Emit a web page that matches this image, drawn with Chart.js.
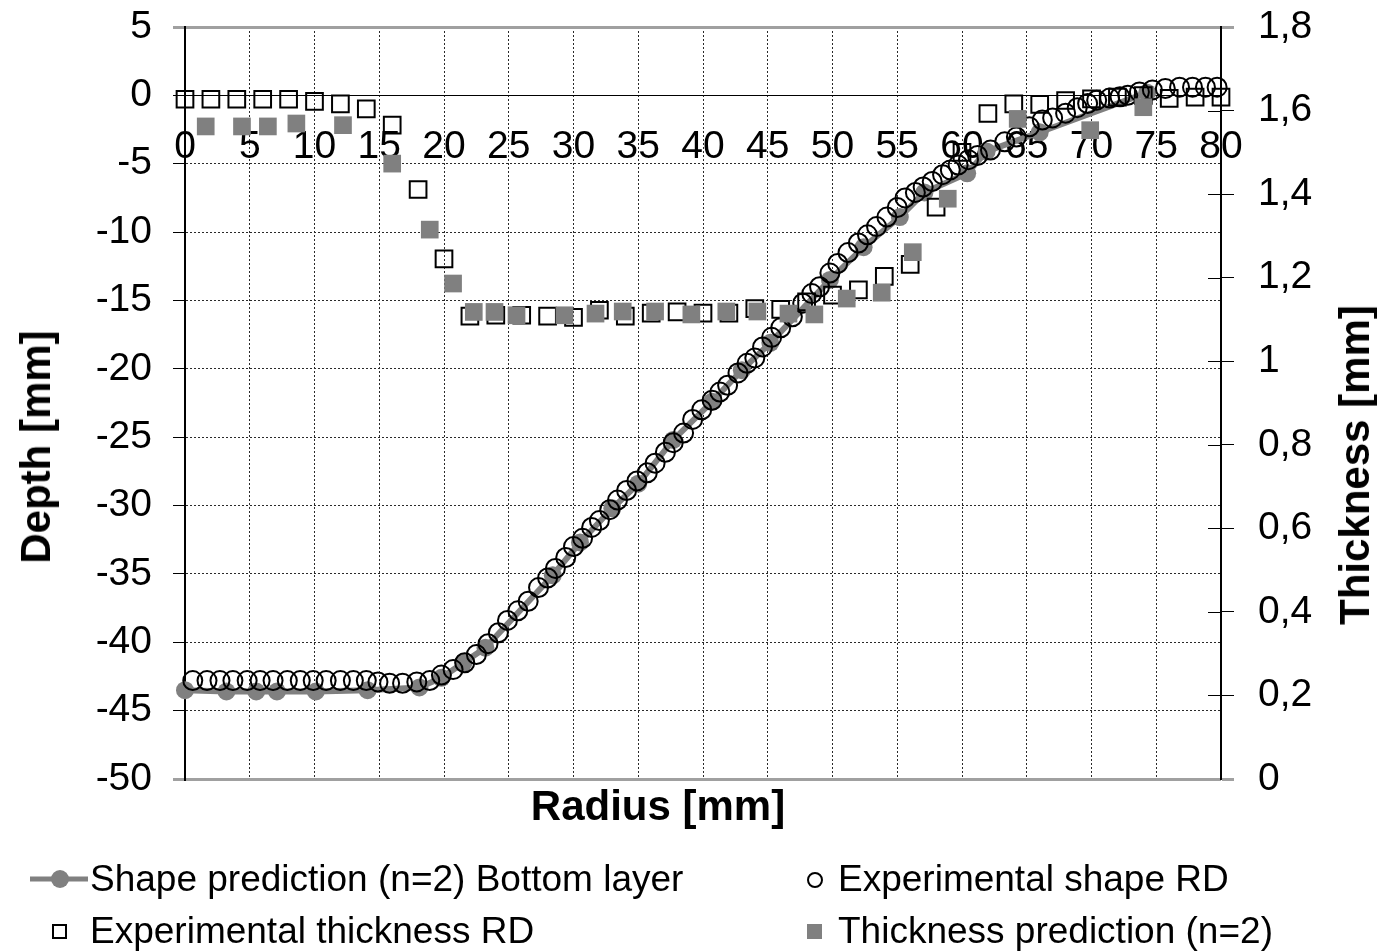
<!DOCTYPE html>
<html>
<head>
<meta charset="utf-8">
<script src="https://cdn.jsdelivr.net/npm/chart.js@4.4.1/dist/chart.umd.min.js"></script>
<style>
  body { margin: 0; background: #fff; font-family: "Liberation Sans", Arial, sans-serif; }
  #wrap { position: relative; width: 1377px; height: 952px; overflow: hidden; }
  #chart { position: absolute; left: 0; top: 0; }
  .ttl { position: absolute; font-weight: bold; font-size: 42px; line-height: 42px; white-space: nowrap; color: #000; }
  .leg { position: absolute; font-size: 37px; line-height: 40px; white-space: nowrap; color: #000; }
  .mk { position: absolute; }
</style>
</head>
<body>
<div id="wrap">
  <canvas id="chart" width="1377" height="952"></canvas>
  <div class="ttl" style="left:658px;top:806px;transform:translate(-50%,-50%)">Radius [mm]</div>
  <div class="ttl" style="left:36px;top:447px;transform:translate(-50%,-50%) rotate(-90deg)">Depth [mm]</div>
  <div class="ttl" style="left:1355px;top:465px;transform:translate(-50%,-50%) rotate(-90deg)">Thickness [mm]</div>

  <svg class="mk" style="left:28px;top:869px" width="62" height="20">
    <line x1="2" y1="10" x2="60" y2="10" stroke="#808080" stroke-width="5"/>
    <circle cx="32" cy="10" r="9" fill="#808080"/>
  </svg>
  <div class="leg" style="left:90px;top:859px">Shape prediction (n=2) Bottom layer</div>
  <svg class="mk" style="left:804px;top:869px" width="22" height="22">
    <circle cx="11" cy="11" r="7" fill="none" stroke="#000" stroke-width="2"/>
  </svg>
  <div class="leg" style="left:838px;top:859px">Experimental shape RD</div>
  <svg class="mk" style="left:50px;top:922px" width="20" height="20">
    <rect x="3" y="3" width="13" height="13" fill="none" stroke="#000" stroke-width="2"/>
  </svg>
  <div class="leg" style="left:90px;top:911px">Experimental thickness RD</div>
  <svg class="mk" style="left:805px;top:922px" width="20" height="20">
    <rect x="2" y="2" width="15" height="15" fill="#808080"/>
  </svg>
  <div class="leg" style="left:838px;top:911px">Thickness prediction (n=2)</div>
</div>
<script>
// radius positions [mm] and depths [mm] of the measured profile (RD)
const shapeExpR = [0.6, 1.7, 2.7, 3.7, 4.8, 5.8, 6.8, 7.9, 8.9, 9.9, 10.9, 12.0, 13.0, 14.0, 14.9, 15.8, 16.8, 17.9, 18.9,
  19.8, 20.7, 21.6, 22.5, 23.4, 24.2, 24.9, 25.7, 26.5, 27.3, 28.0, 28.6, 29.4, 30.0, 30.7, 31.4, 32.0, 32.8, 33.4, 34.1,
  34.9, 35.7, 36.3, 37.1, 37.7, 38.5, 39.2, 39.9, 40.7, 41.3, 41.9, 42.7, 43.4, 44.0, 44.6, 45.3, 46.0, 46.9, 47.7, 48.4,
  49.0, 49.8, 50.4, 51.2, 52.0, 52.7, 53.4, 54.2, 55.0, 55.6, 56.4, 57.0, 57.7, 58.5, 59.1, 59.7, 60.5, 61.2, 62.2, 63.3,
  64.2, 65.2, 66.2, 67.0, 68.0, 68.9, 69.7, 70.4, 71.4, 72.2, 72.8, 73.7, 74.7, 75.7, 76.8, 77.8, 78.8, 79.7];
const shapeExpDepth = [-42.8, -42.8, -42.8, -42.8, -42.8, -42.8, -42.8, -42.8, -42.8, -42.8, -42.8, -42.8, -42.8, -42.8, -42.9, -43.0, -43.0, -42.9, -42.8,
  -42.4, -42.0, -41.5, -40.9, -40.1, -39.3, -38.4, -37.7, -37.0, -36.0, -35.3, -34.6, -33.8, -33.0, -32.4, -31.6, -31.1, -30.3, -29.6, -28.9,
  -28.2, -27.6, -26.9, -26.1, -25.4, -24.7, -23.7, -23.0, -22.3, -21.7, -21.2, -20.3, -19.6, -19.2, -18.4, -17.7, -17.0, -16.2, -15.2, -14.5,
  -14.0, -13.0, -12.3, -11.5, -10.8, -10.2, -9.6, -8.9, -8.2, -7.5, -7.1, -6.7, -6.3, -5.8, -5.45, -5.1, -4.7, -4.4, -4.0, -3.4,
  -3.05, -2.3, -1.8, -1.65, -1.3, -0.9, -0.6, -0.35, -0.2, -0.1, 0.0, 0.25, 0.4, 0.5, 0.6, 0.6, 0.6, 0.6];

// predicted bottom layer profile, n=2
const shapePredR = [0, 3.2, 5.5, 7.1, 10.1, 14.1, 18.1, 19.8, 21.5, 23.2, 28.4, 30.5, 33.0, 35.0, 37.7, 40.7, 43.0, 45.2,
  49.8, 52.4, 55.2, 57.1, 60.4, 61.9, 66.0, 74.3];
const shapePredDepth = [-43.5, -43.6, -43.6, -43.6, -43.6, -43.5, -43.3, -42.6, -41.5, -40.4, -35.1, -32.7, -30.2, -28.4, -25.2, -22.4, -20.1, -18.1,
  -13.5, -11.1, -8.9, -7.1, -5.7, -4.1, -2.7, 0.2];

// measured wall thickness [mm] (RD)
const thickExpR = [0, 2, 4, 6, 8, 10, 12, 14, 16, 18, 20, 22, 24, 26, 28, 30, 32, 34, 36, 38, 40,
  42, 44, 46, 48, 50, 52, 54, 56, 58, 60, 62, 64, 66, 68, 70, 72, 74, 76, 78, 80];
const thickExp = [1.627, 1.627, 1.627, 1.627, 1.627, 1.622, 1.616, 1.604, 1.565, 1.411, 1.245, 1.108, 1.110, 1.110, 1.108, 1.105, 1.122, 1.108, 1.115, 1.118, 1.115,
  1.115, 1.126, 1.124, 1.142, 1.158, 1.171, 1.203, 1.232, 1.369, 1.500, 1.593, 1.616, 1.615, 1.624, 1.628, 1.632, 1.636, 1.629, 1.632, 1.632];

// predicted wall thickness [mm], n=2
const thickPredR = [1.6, 4.4, 6.4, 8.6, 12.2, 16.0, 18.9, 20.7, 22.3, 23.9, 25.6, 29.3, 31.7, 33.8, 36.3, 39.1, 41.8, 44.2,
  46.6, 48.6, 51.1, 53.8, 56.2, 58.9, 64.3, 69.9, 74.0];
const thickPred = [1.562, 1.562, 1.562, 1.569, 1.565, 1.473, 1.315, 1.186, 1.118, 1.118, 1.110, 1.110, 1.114, 1.119, 1.119, 1.112, 1.119, 1.119,
  1.114, 1.112, 1.150, 1.164, 1.261, 1.389, 1.580, 1.553, 1.608];

function pairs(xs, ys) {
  return xs.map((x, i) => ({ x: x, y: ys[i] }));
}

const FONT = 'Liberation Sans, Arial, sans-serif';
const GRID = '#2a2a2a';
const FRAME = '#a0a0a0';

// little ticks on the inner side of the thickness axis
const innerTicks = {
  id: 'innerTicks',
  beforeDatasetsDraw(chart) {
    const s = chart.scales.y2;
    const c = chart.ctx;
    c.save();
    c.strokeStyle = '#000';
    c.lineWidth = 1;
    s.ticks.forEach(t => {
      if (t.value <= 0 || t.value >= 1.8) return;
      const py = Math.round(s.getPixelForValue(t.value)) + 0.5;
      c.beginPath();
      c.moveTo(s.left - 13, py);
      c.lineTo(s.left, py);
      c.stroke();
    });
    c.restore();
  }
};

const isFrame = v => v === 5 || v === -50;
const isFrame2 = v => v === 0 || Math.abs(v - 1.8) < 1e-6;

// fixed axis widths, and no extra room for the end labels
function fixWidth(w) {
  return s => {
    s.width = w;
    s.paddingTop = 0;
    s.paddingBottom = 0;
  };
}

new Chart(document.getElementById('chart'), {
  type: 'scatter',
  data: {
    datasets: [
      {
        label: 'Thickness prediction (n=2)',
        data: pairs(thickPredR, thickPred),
        yAxisID: 'y2',
        pointStyle: 'rect',
        pointRadius: 12.5,
        backgroundColor: '#808080',
        borderWidth: 0,
        clip: false,
        order: 0
      },
      {
        label: 'Experimental thickness RD',
        data: pairs(thickExpR, thickExp),
        yAxisID: 'y2',
        pointStyle: 'rect',
        pointRadius: 11.8,
        backgroundColor: 'rgba(0,0,0,0)',
        borderColor: '#000',
        borderWidth: 2,
        clip: false,
        order: 1
      },
      {
        label: 'Experimental shape RD',
        data: pairs(shapeExpR, shapeExpDepth),
        yAxisID: 'y',
        pointStyle: 'circle',
        pointRadius: 9.5,
        backgroundColor: 'rgba(0,0,0,0)',
        borderColor: '#000',
        borderWidth: 2,
        clip: false,
        order: 2
      },
      {
        label: 'Shape prediction (n=2) Bottom layer',
        data: pairs(shapePredR, shapePredDepth),
        yAxisID: 'y',
        showLine: true,
        borderColor: '#808080',
        borderWidth: 6,
        pointRadius: 9,
        pointBackgroundColor: '#808080',
        pointBorderWidth: 0,
        clip: false,
        order: 3
      }
    ]
  },
  options: {
    responsive: false,
    animation: false,
    layout: { padding: { top: 27, bottom: 173, left: 0, right: 0 } },
    plugins: { legend: { display: false }, tooltip: { enabled: false } },
    scales: {
      x: {
        type: 'linear',
        min: 0,
        max: 80,
        position: { y: 0 },
        ticks: { stepSize: 5, padding: 28, color: '#000', font: { family: FONT, size: 39 } },
        grid: { color: GRID, lineWidth: 1, drawTicks: false },
        border: { color: '#000', width: 1, dash: [2, 2] }
      },
      y: {
        min: -50,
        max: 5,
        position: 'left',
        ticks: { stepSize: 5, padding: 21, color: '#000', font: { family: FONT, size: 39 } },
        grid: {
          color: c => isFrame(c.tick && c.tick.value) ? FRAME : GRID,
          lineWidth: c => isFrame(c.tick && c.tick.value) ? 3 : 1,
          tickLength: 12,
          tickColor: c => isFrame(c.tick && c.tick.value) ? FRAME : '#000',
          tickWidth: c => isFrame(c.tick && c.tick.value) ? 3 : 1
        },
        border: {
          color: '#000',
          width: 2,
          dash: c => isFrame(c.tick && c.tick.value) ? [] : [2, 2]
        },
        afterFit: fixWidth(185)
      },
      y2: {
        min: 0,
        max: 1.8,
        position: 'right',
        ticks: {
          stepSize: 0.2,
          padding: 24,
          color: '#000',
          font: { family: FONT, size: 39 },
          callback: v => String(Number(v.toFixed(1))).replace('.', ',')
        },
        grid: {
          drawOnChartArea: false,
          tickLength: 13,
          tickColor: c => (c.tick && isFrame2(c.tick.value)) ? FRAME : '#000',
          tickWidth: c => (c.tick && isFrame2(c.tick.value)) ? 3 : 1
        },
        border: { color: '#000', width: 2 },
        afterFit: fixWidth(156)
      }
    }
  },
  plugins: [innerTicks]
});
</script>
</body>
</html>
